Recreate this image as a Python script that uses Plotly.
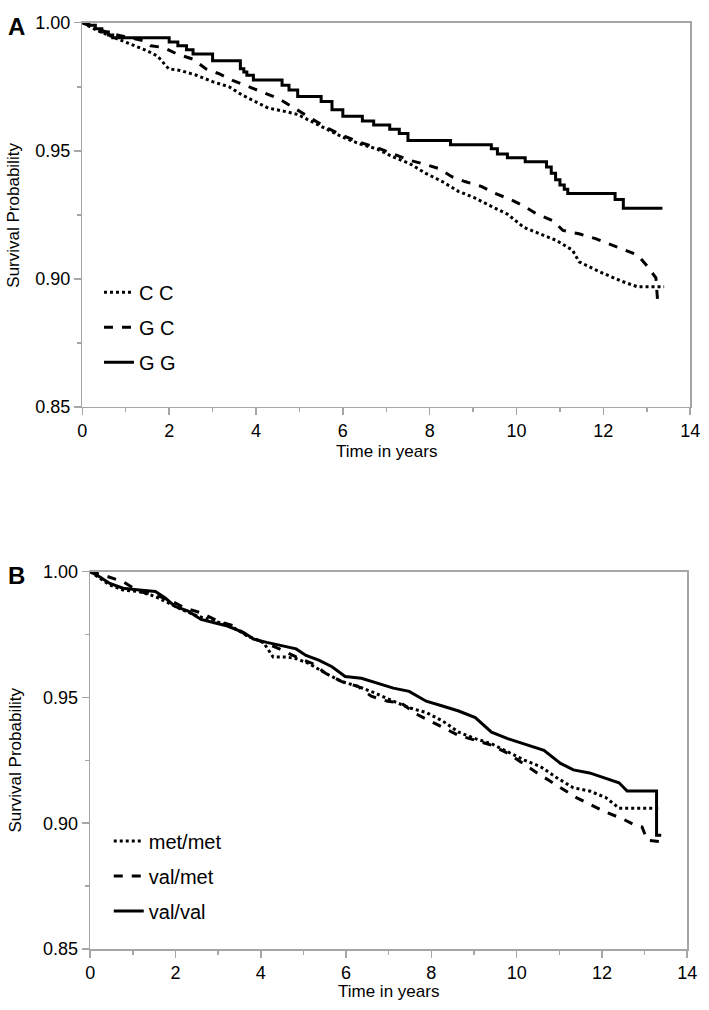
import plotly.graph_objects as go

W, H = 709, 1010

# ---------------- Panel A data ----------------
cc_t = [0, 0.38, 0.75, 1.13, 1.5, 1.73, 1.88, 1.99, 2.25, 2.63, 3.0, 3.38, 3.68, 3.98, 4.28, 4.66, 4.96, 5.26,
        5.63, 6.01, 6.39, 6.79, 7.16, 7.54, 7.91, 8.29, 8.66, 9.04, 9.41, 9.79, 10.17, 10.54, 10.92, 11.29,
        11.44, 11.9, 12.42, 12.79, 13.4]
cc_s = [1.0, 0.9967, 0.9941, 0.9916, 0.989, 0.987, 0.984, 0.982, 0.9814, 0.9795, 0.977, 0.975, 0.9718, 0.9693,
        0.9667, 0.9654, 0.9642, 0.9616, 0.9584, 0.9552, 0.9527, 0.9507, 0.9476, 0.945, 0.9412, 0.938, 0.9342,
        0.9316, 0.9284, 0.9253, 0.9201, 0.9176, 0.915, 0.9112, 0.9067, 0.9029, 0.8991, 0.8969, 0.8969]

gc_t = [0, 0.38, 0.75, 1.13, 1.43, 1.58, 1.88, 2.18, 2.55, 2.85, 3.16, 3.46, 3.83, 4.21, 4.51, 4.88, 5.26, 5.63,
        6.01, 6.39, 6.76, 7.14, 7.54, 7.84, 8.21, 8.51, 8.81, 9.19, 9.49, 9.86, 10.17, 10.47, 10.84, 11.07,
        11.44, 11.82, 12.12, 12.49, 12.79, 13.02, 13.21, 13.25]
gc_s = [1.0, 0.9973, 0.9954, 0.9941, 0.9929, 0.991, 0.9903, 0.9878, 0.9858, 0.982, 0.980, 0.9775, 0.975, 0.9724,
        0.9705, 0.9667, 0.9629, 0.959, 0.9559, 0.9533, 0.9514, 0.9488, 0.9463, 0.945, 0.9431, 0.9399, 0.938,
        0.9361, 0.9335, 0.931, 0.9284, 0.9253, 0.9227, 0.9189, 0.9176, 0.9157, 0.9138, 0.9112, 0.9093, 0.9048,
        0.9004, 0.8914]

gg_t = [0, 0.15, 0.3, 0.45, 0.6, 0.7, 2.0, 2.2, 2.4, 2.55, 3.0, 3.64, 3.72, 3.79, 3.94, 4.6, 4.76, 4.96, 5.5,
        5.75, 6.0, 6.45, 6.71, 7.08, 7.3, 7.5, 8.48, 9.42, 9.56, 9.79, 10.2, 10.69, 10.8, 10.9, 11.0, 11.1,
        11.18, 12.27, 12.46, 13.36]
gg_s = [1.0, 0.999, 0.9977, 0.9964, 0.9952, 0.9941, 0.9925, 0.991, 0.9895, 0.9878, 0.9852, 0.982, 0.9808,
        0.9795, 0.9776, 0.9756, 0.9737, 0.9712, 0.9693, 0.966, 0.9635, 0.9616, 0.9601, 0.9584, 0.9568, 0.954,
        0.9524, 0.9508, 0.9488, 0.9473, 0.9457, 0.9437, 0.9412, 0.9387, 0.9367, 0.935, 0.9333, 0.931, 0.9276,
        0.9276]

# ---------------- Panel B data ----------------
mm_t = [0, 0.23, 0.46, 0.77, 1.15, 1.53, 1.84, 2.15, 2.53, 2.91, 3.3, 3.68, 4.06, 4.29, 4.6, 4.83, 5.13, 5.52,
        5.9, 6.28, 6.67, 7.11, 7.48, 7.88, 8.26, 8.64, 9.03, 9.41, 9.79, 10.18, 10.56, 10.95, 11.33, 11.71,
        12.09, 12.4, 13.33]
mm_s = [1.0, 0.9973, 0.9947, 0.9927, 0.9921, 0.9901, 0.9875, 0.9849, 0.9823, 0.9804, 0.9784, 0.9745, 0.9719,
        0.9661, 0.9661, 0.9654, 0.9635, 0.9596, 0.9563, 0.9544, 0.9518, 0.9485, 0.9459, 0.944, 0.9407, 0.9362,
        0.9336, 0.9316, 0.9284, 0.9251, 0.9225, 0.918, 0.9141, 0.9128, 0.9102, 0.906, 0.906]

vm_t = [0, 0.31, 0.77, 1.15, 1.53, 1.92, 2.22, 2.6, 2.99, 3.37, 3.68, 4.06, 4.44, 4.83, 5.21, 5.52, 5.9, 6.28,
        6.59, 6.97, 7.28, 7.65, 8.11, 8.64, 9.03, 9.41, 9.79, 10.18, 10.48, 10.79, 11.4, 11.79, 12.09, 12.48,
        12.79, 12.94, 13.06, 13.37]
vm_s = [1.0, 0.9986, 0.996, 0.9921, 0.9908, 0.9882, 0.9856, 0.9836, 0.9804, 0.9784, 0.9745, 0.9719, 0.9693,
        0.9661, 0.9635, 0.9596, 0.9563, 0.9544, 0.9505, 0.9485, 0.9479, 0.9434, 0.9395, 0.9349, 0.933, 0.931,
        0.9278, 0.9232, 0.92, 0.9167, 0.9102, 0.9069, 0.9044, 0.9018, 0.8991, 0.8985, 0.8933, 0.8927]

vv_t = [0, 0.23, 0.46, 0.77, 1.15, 1.53, 1.76, 1.99, 2.3, 2.6, 2.91, 3.22, 3.6, 3.83, 4.14, 4.52, 4.83, 5.06,
        5.36, 5.67, 5.98, 6.36, 6.73, 7.11, 7.48, 7.88, 8.26, 8.64, 9.03, 9.41, 9.79, 10.18, 10.64, 11.02,
        11.33, 11.71, 12.09, 12.4, 12.59, 13.28, 13.28, 13.39]
vv_s = [1.0, 0.9979, 0.9953, 0.9934, 0.9927, 0.9921, 0.9895, 0.9862, 0.9843, 0.981, 0.9797, 0.9784, 0.9758,
        0.9732, 0.9719, 0.9706, 0.9693, 0.9667, 0.9648, 0.9622, 0.9583, 0.9576, 0.9557, 0.9537, 0.9524, 0.9485,
        0.9466, 0.9446, 0.942, 0.9362, 0.9336, 0.9316, 0.929, 0.9239, 0.9212, 0.92, 0.918, 0.9161, 0.9128,
        0.9128, 0.8952, 0.8952]

labels_a = ["C C", "G C", "G G"]
labels_b = ["met/met", "val/met", "val/val"]
x_ticks = [0, 2, 4, 6, 8, 10, 12, 14]
y_ticks = [0.85, 0.90, 0.95, 1.00]

FONT = "Liberation Sans, Arial, Helvetica, sans-serif"
AXCOL = "#a6a6a6"

fig = go.Figure()

def add(t, s, name, dash, xa, ya, leg, shape):
    fig.add_trace(go.Scatter(x=t, y=s, mode="lines", name=name, xaxis=xa, yaxis=ya,
                             line=dict(color="black", width=3, dash=dash, shape=shape),
                             legend=leg, legendgroup=name + leg, showlegend=True, hoverinfo="skip"))

add(cc_t, cc_s, labels_a[0], "dot", "x", "y", "legend", "linear")
add(gc_t, gc_s, labels_a[1], "9px,9px", "x", "y", "legend", "linear")
add(gg_t, gg_s, labels_a[2], "solid", "x", "y", "legend", "hv")
add(mm_t, mm_s, labels_b[0], "dot", "x2", "y2", "legend2", "linear")
add(vm_t, vm_s, labels_b[1], "9px,9px", "x2", "y2", "legend2", "linear")
add(vv_t, vv_s, labels_b[2], "solid", "x2", "y2", "legend2", "linear")

TICKFONT = dict(size=18, color="black", family=FONT)

def xax(dom, anchor):
    return dict(domain=dom, anchor=anchor, range=[0, 14], tickvals=x_ticks, ticks="outside", ticklen=7,
                tickwidth=1.5, tickcolor=AXCOL, showline=True, linecolor=AXCOL, linewidth=1.5, mirror=True,
                showgrid=False, zeroline=False, tickfont=TICKFONT,
                minor=dict(dtick=1, tick0=0, ticks="outside", ticklen=4, tickcolor=AXCOL, tickwidth=1.5,
                           showgrid=False))

def yax(dom, anchor):
    return dict(domain=dom, anchor=anchor, range=[0.85, 1.0], tickvals=y_ticks, tickformat=".2f",
                ticks="outside", ticklen=7, tickwidth=1.5, tickcolor=AXCOL, showline=True, linecolor=AXCOL,
                linewidth=1.5, mirror=True, showgrid=False, zeroline=False, tickfont=TICKFONT,
                minor=dict(dtick=0.025, tick0=0.85, ticks="outside", ticklen=4, tickcolor=AXCOL, tickwidth=1.5,
                           showgrid=False))

def px_x(p):
    return p / W

def px_y(p):
    return 1 - p / H

legend_common = dict(font=dict(size=20, color="black", family=FONT), bgcolor="rgba(0,0,0,0)",
                     xanchor="left", yanchor="top", tracegroupgap=6, itemwidth=30)

fig.update_layout(
    width=W, height=H, margin=dict(l=0, r=0, t=0, b=0),
    paper_bgcolor="white", plot_bgcolor="white",
    font=dict(family=FONT, color="black"),
    xaxis=xax([px_x(79), px_x(700)], "y"),
    yaxis=yax([px_y(405), px_y(13)], "x"),
    xaxis2=xax([px_x(87), px_x(697)], "y2"),
    yaxis2=yax([px_y(958), px_y(573)], "x2"),
    legend=dict(x=px_x(96), y=px_y(268), **legend_common),
    legend2=dict(x=px_x(106), y=px_y(828), **legend_common),
    showlegend=True,
    hovermode=False,
)

ann = [
    dict(text="<b>A</b>", x=px_x(12), y=px_y(17), font=dict(size=24)),
    dict(text="<b>B</b>", x=px_x(12), y=px_y(577), font=dict(size=24)),
    dict(text="Time in years", x=px_x(389.5), y=px_y(450), font=dict(size=17)),
    dict(text="Time in years", x=px_x(392), y=px_y(1001), font=dict(size=17)),
    dict(text="Survival Probability", x=px_x(9), y=px_y(209), font=dict(size=17), textangle=-90),
    dict(text="Survival Probability", x=px_x(11), y=px_y(765), font=dict(size=17), textangle=-90),
]
for a in ann:
    a.update(xref="paper", yref="paper", showarrow=False, xanchor="center", yanchor="middle")
    a["font"].update(family=FONT, color="black")
    fig.add_annotation(**a)

fig.write_html("out.html", config={"displayModeBar": False, "staticPlot": True},
               post_script="document.body.style.margin='0px';document.body.style.padding='0px';")
